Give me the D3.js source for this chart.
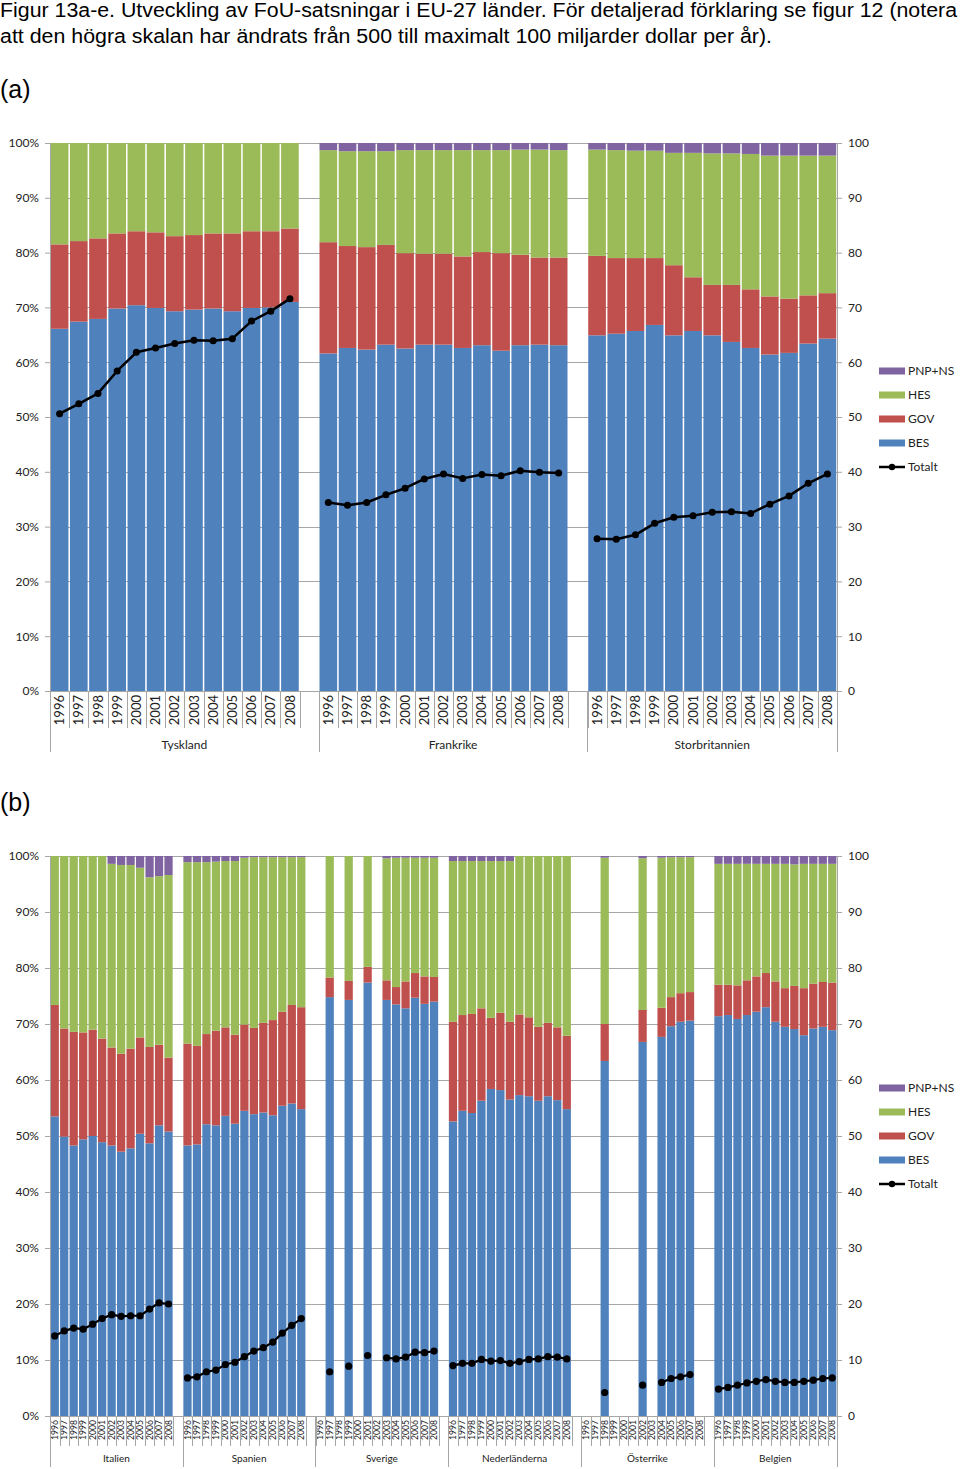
<!DOCTYPE html>
<html><head><meta charset="utf-8">
<script src="https://cdn.jsdelivr.net/npm/d3@7"></script>
<style>body{margin:0;background:#fff}svg{display:block}</style>
</head><body>
<script>
// ---------- DATA ----------
const years = ["1996","1997","1998","1999","2000","2001","2002","2003","2004","2005","2006","2007","2008"];
const sectors = ["BES","GOV","HES","PNP+NS"];
const legendLabels = ["PNP+NS","HES","GOV","BES","Totalt"];
const leftTicksPct = [0,0.1,0.2,0.3,0.4,0.5,0.6,0.7,0.8,0.9,1];
const rightTicks = [0,10,20,30,40,50,60,70,80,90,100];
const titleLines = ["Figur 13a-e. Utveckling av FoU-satsningar i EU-27 länder. För detaljerad förklaring se figur 12 (notera",
  "att den högra skalan har ändrats från 500 till maximalt 100 miljarder dollar per år)."];
const panelLabels = ["(a)","(b)"];
const groupsA = ["Tyskland","Frankrike","Storbritannien"];
const groupsB = ["Italien","Spanien","Sverige","Nederländerna","Österrike","Belgien"];
const _ = null;

// Tyskland
const besTyskland = [66.1,67.4,67.9,69.8,70.4,69.9,69.3,69.6,69.8,69.3,69.9,70.0,71.0];
const govTyskland = [15.4,14.7,14.7,13.7,13.5,13.8,13.7,13.6,13.7,14.2,14.0,13.9,13.4];
const hesTyskland = [18.5,17.9,17.4,16.5,16.1,16.3,17.0,16.8,16.5,16.5,16.1,16.1,15.6];
const pnpTyskland = [0,0,0,0,0,0,0,0,0,0,0,0,0];
const totTyskland = [50.6,52.4,54.3,58.4,61.8,62.6,63.4,64.0,63.9,64.3,67.5,69.3,71.6];
// Frankrike
const besFrankrike = [61.6,62.6,62.3,63.2,62.5,63.2,63.2,62.6,63.1,62.1,63.1,63.2,63.1];
const govFrankrike = [20.3,18.6,18.7,18.2,17.4,16.6,16.6,16.7,17.0,17.8,16.5,15.9,16.0];
const hesFrankrike = [16.8,17.3,17.5,17.1,18.8,18.9,18.9,19.4,18.6,18.8,19.2,19.7,19.6];
const pnpFrankrike = [1.3,1.5,1.5,1.5,1.3,1.3,1.3,1.3,1.3,1.3,1.2,1.2,1.3];
const totFrankrike = [34.4,33.9,34.4,35.8,37.0,38.7,39.6,38.8,39.5,39.3,40.2,39.9,39.8];
// Storbritannien
const besStorbritannien = [64.9,65.2,65.7,66.8,64.9,65.7,64.9,63.7,62.6,61.4,61.7,63.4,64.3];
const govStorbritannien = [14.5,13.8,13.3,12.2,12.8,9.8,9.2,10.4,10.7,10.6,9.9,8.8,8.3];
const hesStorbritannien = [19.4,19.7,19.6,19.6,20.5,22.7,24.0,24.0,24.7,25.7,26.1,25.5,25.1];
const pnpStorbritannien = [1.2,1.3,1.4,1.4,1.8,1.8,1.9,1.9,2.0,2.3,2.3,2.3,2.3];
const totStorbritannien = [27.8,27.7,28.5,30.6,31.7,32.0,32.6,32.7,32.4,34.1,35.6,37.9,39.6];
// Italien
const besItalien = [53.5,49.9,48.3,49.4,50.0,48.9,48.3,47.2,47.8,50.4,48.7,51.9,50.8];
const govItalien = [19.9,19.3,20.3,19.1,19.0,18.5,17.5,17.5,17.8,17.2,17.2,14.4,13.2];
const hesItalien = [26.6,30.8,31.4,31.5,31.0,32.6,32.8,33.7,32.8,30.3,30.3,30.1,32.6];
const pnpItalien = [0,0,0,0,0,0,1.4,1.6,1.6,2.1,3.8,3.6,3.4];
const totItalien = [14.3,15.2,15.7,15.5,16.4,17.4,18.1,17.8,17.9,17.9,19.1,20.2,20.0];
// Spanien
const besSpanien = [48.3,48.5,52.1,51.9,53.6,52.2,54.5,53.9,54.2,53.7,55.4,55.8,54.8];
const govSpanien = [18.2,17.6,16.1,16.9,15.8,15.9,15.4,15.4,16.0,17.0,16.8,17.6,18.2];
const hesSpanien = [32.4,32.8,30.7,30.2,29.7,31.0,29.8,30.5,29.6,29.1,27.6,26.4,26.8];
const pnpSpanien = [1.1,1.1,1.1,1.0,0.9,0.9,0.3,0.2,0.2,0.2,0.2,0.2,0.2];
const totSpanien = [6.8,7.0,7.9,8.2,9.2,9.6,10.6,11.6,12.2,13.2,14.8,16.2,17.4];
// Sverige
const besSverige = [_,74.8,_,74.3,_,77.4,_,74.3,73.5,72.8,74.7,73.6,74.0];
const govSverige = [_,3.5,_,3.4,_,2.8,_,3.5,3.1,4.8,4.4,4.9,4.4];
const hesSverige = [_,21.7,_,22.3,_,19.8,_,21.8,23.1,22.1,20.6,21.2,21.3];
const pnpSverige = [_,0,_,0,_,0,_,0.4,0.3,0.3,0.3,0.3,0.3];
const totSverige = [_,7.9,_,8.9,_,10.8,_,10.4,10.2,10.5,11.4,11.3,11.6];
// Nederländerna
const besNederlanderna = [52.6,54.5,54.1,56.3,58.4,58.2,56.5,57.3,57.1,56.3,57.1,56.4,54.8];
const govNederlanderna = [17.8,17.1,17.7,16.5,12.7,13.8,13.9,14.4,14.1,13.2,13.1,13.0,13.1];
const hesNederlanderna = [28.7,27.5,27.3,26.3,28.0,27.1,28.7,28.3,28.8,30.5,29.8,30.6,32.1];
const pnpNederlanderna = [0.9,0.9,0.9,0.9,0.9,0.9,0.9,0,0,0,0,0,0];
const totNederlanderna = [9.0,9.4,9.4,10.1,9.8,9.9,9.4,9.7,10.1,10.2,10.6,10.5,10.2];
// Österrike
const besOsterrike = [_,_,63.4,_,_,_,66.8,_,67.7,69.6,70.4,70.6,_];
const govOsterrike = [_,_,6.6,_,_,_,5.7,_,5.2,5.2,5.1,5.1,_];
const hesOsterrike = [_,_,29.7,_,_,_,27.1,_,26.8,25.0,24.3,24.1,_];
const pnpOsterrike = [_,_,0.3,_,_,_,0.4,_,0.3,0.2,0.2,0.2,_];
const totOsterrike = [_,_,4.2,_,_,_,5.5,_,6.0,6.7,7.0,7.4,_];
// Belgien
const besBelgien = [71.4,71.6,70.9,71.6,72.2,73.0,70.4,69.5,69.1,68.0,69.2,69.5,68.9];
const govBelgien = [5.6,5.4,6.0,6.2,6.3,6.1,7.2,6.9,7.7,8.4,8.0,8.0,8.5];
const hesBelgien = [21.6,21.6,21.7,20.8,20.1,19.5,21.0,22.2,21.7,22.2,21.4,21.1,21.2];
const pnpBelgien = [1.4,1.4,1.4,1.4,1.4,1.4,1.4,1.4,1.5,1.4,1.4,1.4,1.4];
const totBelgien = [4.8,5.1,5.5,5.9,6.2,6.5,6.2,6.0,6.0,6.2,6.4,6.7,6.8];

const colors = {"BES":"#4f81bd","GOV":"#c0504d","HES":"#9bbb59","PNP+NS":"#8064a2"};

function country(name, bes, gov, hes, pnp, tot){ return {name, bes, gov, hes, pnp, tot}; }
const dataA = [
  country(groupsA[0], besTyskland, govTyskland, hesTyskland, pnpTyskland, totTyskland),
  country(groupsA[1], besFrankrike, govFrankrike, hesFrankrike, pnpFrankrike, totFrankrike),
  country(groupsA[2], besStorbritannien, govStorbritannien, hesStorbritannien, pnpStorbritannien, totStorbritannien)];
const dataB = [
  country(groupsB[0], besItalien, govItalien, hesItalien, pnpItalien, totItalien),
  country(groupsB[1], besSpanien, govSpanien, hesSpanien, pnpSpanien, totSpanien),
  country(groupsB[2], besSverige, govSverige, hesSverige, pnpSverige, totSverige),
  country(groupsB[3], besNederlanderna, govNederlanderna, hesNederlanderna, pnpNederlanderna, totNederlanderna),
  country(groupsB[4], besOsterrike, govOsterrike, hesOsterrike, pnpOsterrike, totOsterrike),
  country(groupsB[5], besBelgien, govBelgien, hesBelgien, pnpBelgien, totBelgien)];

// ---------- DRAW ----------
const W = 960, H = 1469;
const svg = d3.select("body").append("svg").attr("width", W).attr("height", H);
const FONT = "Lato, 'Open Sans', sans-serif";

svg.selectAll("text.title").data(titleLines).join("text")
  .attr("class","title").attr("x", 0).attr("y", (d,i) => 17 + i*26)
  .attr("font-family","'Liberation Sans', Arial, sans-serif").attr("font-size", 20)
  .attr("textLength", (d,i) => i === 0 ? 957 : 772).attr("lengthAdjust","spacingAndGlyphs")
  .attr("fill","#000").text(d => d);

function drawChart(o){
  const g = svg.append("g");
  g.append("text").attr("x", 0).attr("y", o.panelY)
    .attr("font-family","'Liberation Sans', Arial, sans-serif").attr("font-size", 25)
    .text(o.panelLabel);

  // slots
  const slots = [];
  o.data.forEach((c, gi) => {
    years.forEach((y, yi) => slots.push({id: gi + "-" + yi, gi, yi, c}));
    if (gi < o.data.length - 1) slots.push({id: gi + "-blank", gi, yi: -1, c});
  });
  const x = d3.scaleBand().domain(slots.map(s => s.id)).range([o.left, o.right])
    .paddingInner(o.pad).paddingOuter(o.pad/2);
  const step = x.step();
  const yL = d3.scaleLinear().domain([0,1]).range([o.bottom, o.top]);
  const yR = d3.scaleLinear().domain([0,100]).range([o.bottom, o.top]);

  // gridlines
  g.append("g").selectAll("line").data(leftTicksPct).join("line")
    .attr("x1", o.left).attr("x2", o.right)
    .attr("y1", d => Math.round(yL(d)) + 0.5).attr("y2", d => Math.round(yL(d)) + 0.5)
    .attr("stroke","#a6a6a6").attr("stroke-width",1);

  // stacked bars
  const rows = slots.filter(s => s.yi >= 0 && s.c.bes[s.yi] != null).map(s => ({
    id: s.id, "BES": s.c.bes[s.yi], "GOV": s.c.gov[s.yi], "HES": s.c.hes[s.yi], "PNP+NS": s.c.pnp[s.yi]}));
  const stack = d3.stack().keys(sectors)(rows);
  g.append("g").selectAll("g").data(stack).join("g").attr("fill", d => colors[d.key])
    .selectAll("rect").data(d => d).join("rect")
    .attr("x", d => x(d.data.id)).attr("width", x.bandwidth())
    .attr("y", d => yL(d[1]/100)).attr("height", d => Math.max(0, yL(d[0]/100) - yL(d[1]/100)));

  // axes
  const axL = d3.axisLeft(yL).tickValues(leftTicksPct).tickFormat(d3.format(".0%")).tickSize(5).tickPadding(6);
  const gl = g.append("g").attr("transform", `translate(${o.left},0)`).call(axL);
  const axR = d3.axisRight(yR).tickValues(rightTicks).tickSize(5).tickPadding(6);
  const gr = g.append("g").attr("transform", `translate(${o.right},0)`).call(axR);
  [gl, gr].forEach(a => {
    a.selectAll("path,line").attr("stroke","#a6a6a6");
    a.selectAll("text").attr("font-family", FONT).attr("font-size", 12).attr("fill","#222");
  });
  g.append("line").attr("x1", o.left).attr("x2", o.right).attr("y1", o.bottom + 0.5).attr("y2", o.bottom + 0.5)
    .attr("stroke","#a6a6a6");

  // category axis: year labels + ticks
  const yearSlots = slots.filter(s => s.yi >= 0);
  g.append("g").selectAll("text").data(yearSlots).join("text")
    .attr("transform", s => `translate(${x(s.id) + x.bandwidth()/2},${o.bottom + 4}) rotate(-90)`)
    .attr("text-anchor","end").attr("dy","0.35em")
    .attr("font-family", FONT).attr("font-size", o.yearFont).attr("fill","#222")
    .text(s => years[s.yi]);
  const edges = [];
  yearSlots.forEach(s => { const x0 = x(s.id) - x.paddingInner()*step/2; edges.push(x0, x0 + step); });
  const uniqEdges = Array.from(new Set(edges.map(e => Math.round(e*10)/10)));
  g.append("g").selectAll("line").data(uniqEdges).join("line")
    .attr("x1", d => Math.round(d)+0.5).attr("x2", d => Math.round(d)+0.5)
    .attr("y1", o.bottom).attr("y2", o.yearTickEnd).attr("stroke","#a6a6a6");

  // group separators and labels
  const groupBounds = o.data.map((c, gi) => {
    const ids = slots.filter(s => s.gi === gi);
    const a = x(ids[0].id) - x.paddingInner()*step/2;
    const b = x(ids[ids.length-1].id) - x.paddingInner()*step/2 + step;
    return [Math.max(o.left, a), Math.min(o.right, b)];
  });
  const seps = Array.from(new Set(groupBounds.flat().map(v => Math.round(v))));
  g.append("g").selectAll("line").data(seps).join("line")
    .attr("x1", d => d+0.5).attr("x2", d => d+0.5)
    .attr("y1", o.bottom).attr("y2", o.groupTickEnd).attr("stroke","#a6a6a6");
  g.append("g").selectAll("text").data(o.data).join("text")
    .attr("x", (c, gi) => (groupBounds[gi][0] + groupBounds[gi][1]) / 2)
    .attr("y", o.groupLabelY).attr("text-anchor","middle")
    .attr("font-family", FONT).attr("font-size", o.groupFont).attr("fill","#222")
    .text(c => c.name);

  // Totalt lines
  const line = d3.line().defined(d => d.v != null)
    .x(d => x(d.id) + x.bandwidth()/2).y(d => yR(d.v));
  o.data.forEach((c, gi) => {
    const pts = years.map((y, yi) => ({id: gi + "-" + yi, v: c.tot[yi]}));
    g.append("path").datum(pts).attr("d", line).attr("fill","none")
      .attr("stroke","#000").attr("stroke-width", o.lineW).attr("stroke-linejoin","round");
    g.append("g").selectAll("circle").data(pts.filter(p => p.v != null)).join("circle")
      .attr("cx", d => x(d.id) + x.bandwidth()/2).attr("cy", d => yR(d.v)).attr("r", o.dotR).attr("fill","#000");
  });

  // legend
  const lg = g.append("g");
  legendLabels.forEach((lab, i) => {
    const cy = o.legendY + i*24;
    if (lab === "Totalt") {
      lg.append("line").attr("x1", 879).attr("x2", 905).attr("y1", cy).attr("y2", cy).attr("stroke","#000").attr("stroke-width",2.5);
      lg.append("circle").attr("cx", 892).attr("cy", cy).attr("r", 3.2).attr("fill","#000");
    } else {
      lg.append("rect").attr("x", 879).attr("y", cy - 3.5).attr("width", 26).attr("height", 7).attr("fill", colors[lab]);
    }
    lg.append("text").attr("x", 908).attr("y", cy).attr("dy","0.35em")
      .attr("font-family", FONT).attr("font-size", 12).attr("fill","#222").text(lab);
  });
}

drawChart({data: dataA, panelLabel: panelLabels[0], panelY: 98, left: 50, right: 837, top: 143, bottom: 691,
  pad: 0.08, yearFont: 13, yearTickEnd: 728, groupTickEnd: 752, groupLabelY: 749, groupFont: 12,
  lineW: 2.5, dotR: 3.5, legendY: 371});
drawChart({data: dataB, panelLabel: panelLabels[1], panelY: 811, left: 50, right: 837, top: 856, bottom: 1416,
  pad: 0.13, yearFont: 8.6, yearTickEnd: 1446, groupTickEnd: 1467, groupLabelY: 1462, groupFont: 10,
  lineW: 2.2, dotR: 3.6, legendY: 1088});
</script>
</body></html>
